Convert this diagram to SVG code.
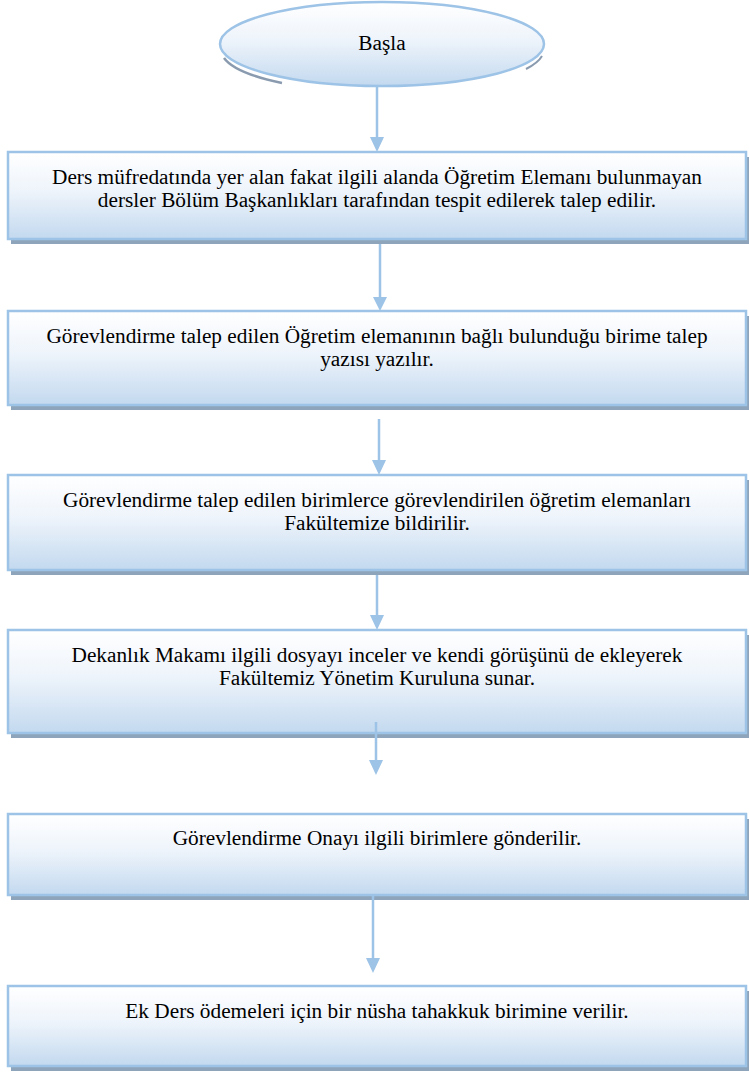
<svg xmlns="http://www.w3.org/2000/svg" width="749" height="1073" viewBox="0 0 749 1073">
<defs>
<linearGradient id="g" x1="0" y1="0" x2="0" y2="1">
<stop offset="0" stop-color="#ffffff"/>
<stop offset="0.45" stop-color="#eef4fb"/>
<stop offset="1" stop-color="#c3d9ef"/>
</linearGradient>
<style>
.box{fill:url(#g);stroke:#9dc3e6;stroke-width:2.5}
.sh{fill:#8ea4ba}
.t{font-family:"Liberation Serif","Times New Roman",serif;font-size:21.3px;fill:#000;text-anchor:middle}
.c{stroke:#9dc3e6;stroke-width:2.5;fill:none}
.h{fill:#9dc3e6}
</style>
</defs>
<rect width="749" height="1073" fill="#ffffff"/>
<g id="connectors">
<line class="c" x1="377" y1="87" x2="377" y2="137"/>
<path class="h" d="M370,137 L384,137 L377,152 Z"/>
<line class="c" x1="380" y1="240" x2="380" y2="297"/>
<path class="h" d="M373,297 L387,297 L380,311 Z"/>
<line class="c" x1="379" y1="419" x2="379" y2="460"/>
<path class="h" d="M372,460 L386,460 L379,475 Z"/>
<line class="c" x1="377" y1="572" x2="377" y2="615"/>
<path class="h" d="M370,615 L384,615 L377,630 Z"/>
</g>
<g id="start">
<path d="M224,58 A162 42 0 0 0 282 83" fill="none" stroke="#8a9bb0" stroke-width="2.5"/>
<path d="M526,69 A162 42 0 0 0 542 56" fill="none" stroke="#8a9bb0" stroke-width="2"/>
<ellipse class="box" cx="382" cy="44" rx="162" ry="42"/>
<text class="t" x="382" y="50">Başla</text>
</g>
<g id="n1">
<rect class="sh" x="11" y="157" width="738" height="87"/>
<rect class="box" x="8" y="152" width="738" height="87"/>
<text class="t" x="377" y="184">Ders müfredatında yer alan fakat ilgili alanda Öğretim Elemanı bulunmayan</text>
<text class="t" x="377" y="207">dersler Bölüm Başkanlıkları tarafından tespit edilerek talep edilir.</text>
</g>
<g id="n2">
<rect class="sh" x="11" y="316" width="738" height="94"/>
<rect class="box" x="8" y="311" width="738" height="94"/>
<text class="t" x="377" y="343">Görevlendirme talep edilen Öğretim elemanının bağlı bulunduğu birime talep</text>
<text class="t" x="377" y="366">yazısı yazılır.</text>
</g>
<g id="n3">
<rect class="sh" x="11" y="480" width="738" height="95"/>
<rect class="box" x="8" y="475" width="738" height="95"/>
<text class="t" x="377" y="507">Görevlendirme talep edilen birimlerce görevlendirilen öğretim elemanları</text>
<text class="t" x="377" y="530">Fakültemize bildirilir.</text>
</g>
<g id="n4">
<rect class="sh" x="11" y="635" width="738" height="103"/>
<rect class="box" x="8" y="630" width="738" height="103"/>
<text class="t" x="377" y="662">Dekanlık Makamı ilgili dosyayı inceler ve kendi görüşünü de ekleyerek</text>
<text class="t" x="377" y="685">Fakültemiz Yönetim Kuruluna sunar.</text>
</g>
<g id="n5">
<rect class="sh" x="11" y="819" width="738" height="81"/>
<rect class="box" x="8" y="814" width="738" height="81"/>
<text class="t" x="377" y="845">Görevlendirme Onayı ilgili birimlere gönderilir.</text>
</g>
<g id="n6">
<rect class="sh" x="11" y="991" width="738" height="80"/>
<rect class="box" x="8" y="986" width="738" height="80"/>
<text class="t" x="377" y="1018">Ek Ders ödemeleri için bir nüsha tahakkuk birimine verilir.</text>
</g>
<g id="connectors-over">
<line class="c" x1="376" y1="722" x2="376" y2="760"/>
<path class="h" d="M369,760 L383,760 L376,775 Z"/>
<line class="c" x1="373" y1="896" x2="373" y2="958"/>
<path class="h" d="M366,958 L380,958 L373,973 Z"/>
</g>
</svg>
